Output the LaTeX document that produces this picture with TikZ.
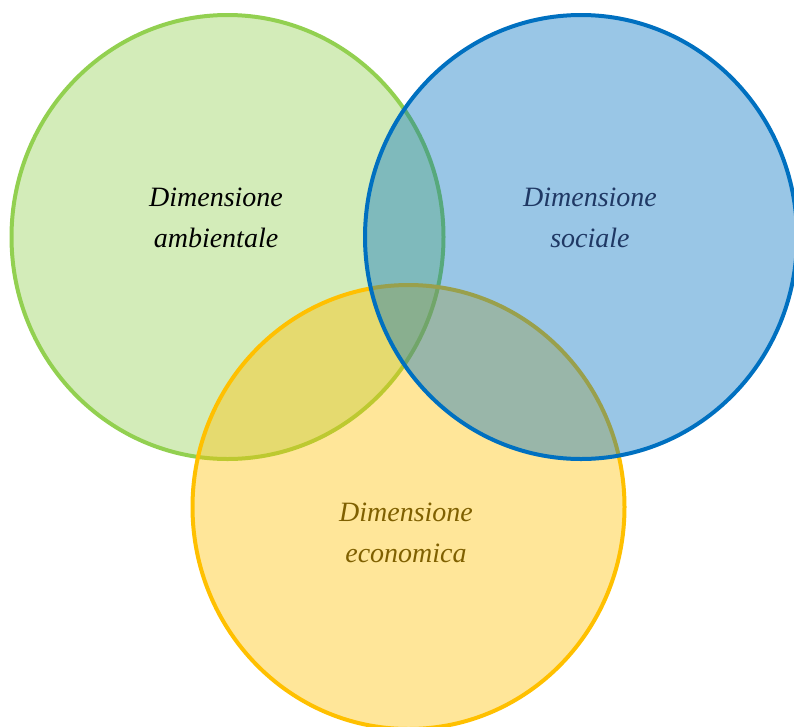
\documentclass[tikz,border=0pt]{standalone}
\usepackage{fontspec}
\setmainfont{Liberation Serif}
\definecolor{cgreen}{HTML}{92D050}
\definecolor{cblue}{HTML}{0070C0}
\definecolor{cyellow}{HTML}{FFC000}
\definecolor{tblue}{HTML}{1F3864}
\definecolor{tyellow}{HTML}{7F6000}
\begin{document}
\begin{tikzpicture}[x=1pt,y=-1pt,
  circ/.style={line width=4pt, fill opacity=0.4},
  lab/.style={font=\itshape\fontsize{28}{41}\selectfont, align=center, inner sep=0pt}]
\useasboundingbox (0,0) rectangle (794,726);
\clip (0,0) rectangle (794,726);
\draw[circ, draw=cgreen, fill=cgreen] (227.5,237) ellipse [x radius=216pt, y radius=222pt];
\draw[circ, draw=cyellow, fill=cyellow] (408.5,507) ellipse [x radius=216pt, y radius=222pt];
\draw[circ, draw=cblue, fill=cblue] (581,237) ellipse [x radius=216pt, y radius=222pt];
\node[lab, text=black] (amb) at (216,218) {Dimensione\\ambientale};
\node[lab, text=tblue] (soc) at (590,218) {Dimensione\\sociale};
\node[lab, text=tyellow] (eco) at (406,533) {Dimensione\\economica};
\end{tikzpicture}
\end{document}
